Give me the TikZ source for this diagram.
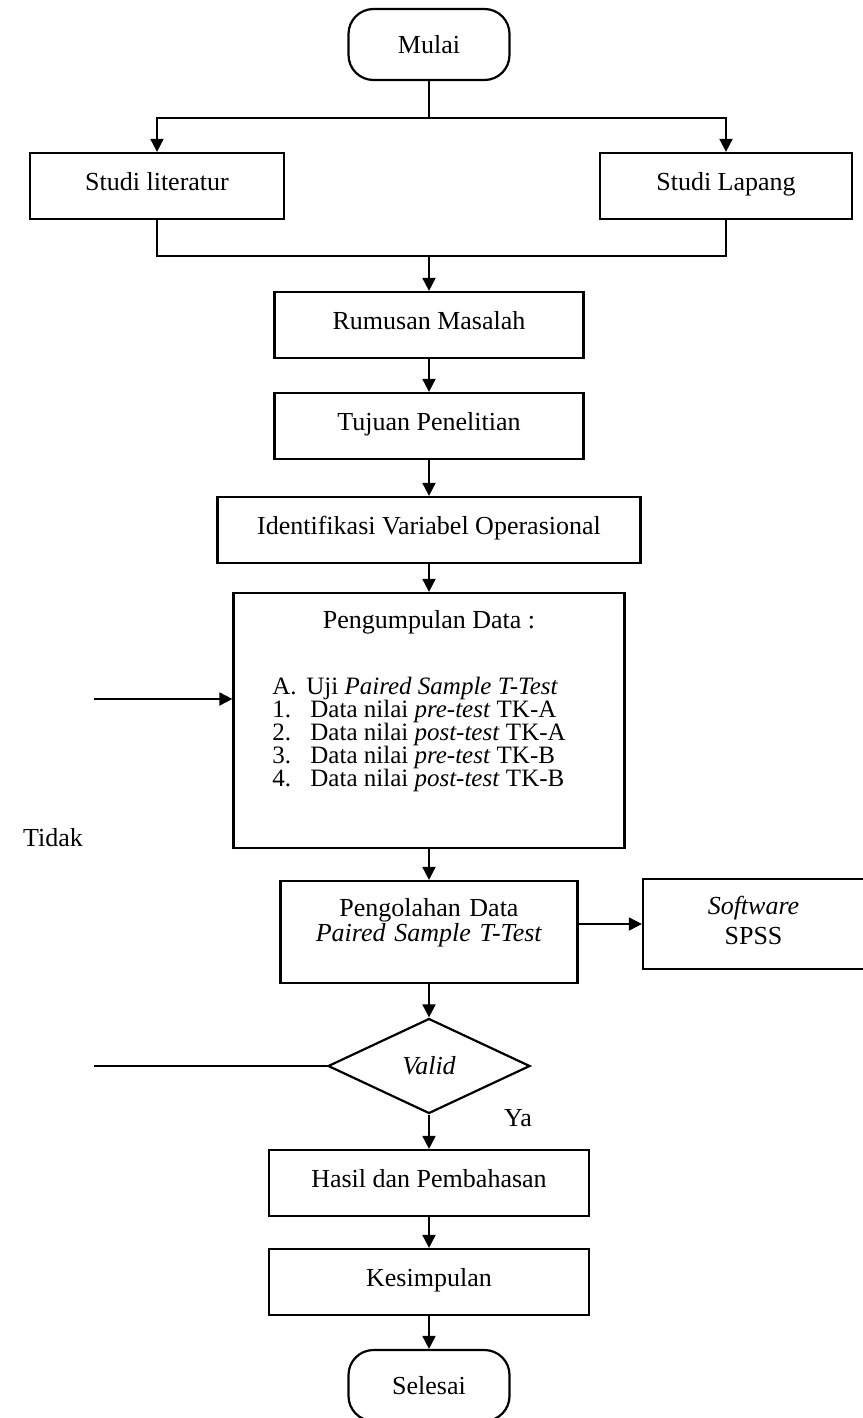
\documentclass[tikz,border=0pt]{standalone}
\usepackage{fontspec}
\setmainfont{Liberation Serif}
\usetikzlibrary{arrows.meta,shapes.geometric}
\begin{document}
\begin{tikzpicture}[x=0.5pt,y=-0.5pt,
  font=\fontsize{13pt}{15pt}\selectfont,
  proses/.style={draw,line width=1.1pt,inner sep=0pt,minimum height=33pt,text height=18.5pt,text depth=14.5pt},
  ujung/.style={draw,line width=1.1pt,rounded corners=12.5pt,inner sep=0pt,minimum width=80.5pt,minimum height=35.5pt},
  putusan/.style={draw,diamond,line width=1.1pt,inner sep=0pt,minimum width=101pt,minimum height=47.5pt},
  garis/.style={line width=0.9pt},
  panah/.style={garis,-{Triangle[length=6.5pt,width=6.5pt]}}]
\useasboundingbox (0,0) rectangle (862,1418);
\node[ujung] (mulai) at (429,44.5) {Mulai};
\node[proses,minimum width=127pt] (literatur) at (157,186) {Studi literatur};
\node[proses,minimum width=126pt] (lapang) at (726,186) {Studi Lapang};
\node[proses,minimum width=154.5pt] (rumusan) at (429,325) {Rumusan Masalah};
\node[proses,minimum width=154.5pt] (tujuan) at (429,426) {Tujuan Penelitian};
\node[proses,minimum width=211.5pt] (identifikasi) at (429,530) {Identifikasi Variabel Operasional};
\node[proses,minimum width=195.5pt,minimum height=127.5pt,text height=17.8pt,text depth=109.7pt] (kumpul) at (429,720.5) {Pengumpulan Data :};
\foreach \lbl/\lebar/\isi [count=\i] in {A./17pt/Uji \textit{Paired Sample T-Test},1./19pt/Data nilai \textit{pre-test} TK-A,2./19pt/Data nilai \textit{post-test} TK-A,3./19pt/Data nilai \textit{pre-test} TK-B,4./19pt/Data nilai \textit{post-test} TK-B}
  \node[inner sep=0pt,anchor=base west,font=\fontsize{12.5pt}{14pt}\selectfont] (data\i) at (272,671.3+23*\i) {\makebox[\lebar][l]{\lbl}\isi};
\node[proses,minimum width=148.5pt,minimum height=51pt,text width=148.5pt,align=center,text height=17.8pt,text depth=33.2pt,font=\fontsize{13pt}{12.5pt}\selectfont] (olah) at (429,932) {Pengolahan Data\\\textit{Paired Sample T-Test}};
\node[proses,minimum width=110.5pt,minimum height=45pt,text width=110.5pt,align=center,text height=17.8pt,text depth=27.2pt] (spss) at (753.5,924) {\textit{Software}\\SPSS};
\node[putusan] (valid) at (429,1066) {\textit{Valid}};
\node[proses,minimum width=160pt] (hasil) at (429,1183) {Hasil dan Pembahasan};
\node[proses,minimum width=160pt] (simpulan) at (429,1282) {Kesimpulan};
\node[ujung] (selesai) at (429,1385.5) {Selesai};
\node[inner sep=0pt] (ya) at (518,1118) {Ya};
\node[inner sep=0pt] (tidak) at (53,838) {Tidak};
\coordinate (cabang) at (429,118);
\coordinate (gabung) at (429,256);
\coordinate (masuk) at (94,699);
\coordinate (keluar) at (94,1066);
\draw[garis] (mulai) -- (cabang);
\draw[panah] (cabang) -| (literatur);
\draw[panah] (cabang) -| (lapang);
\draw[garis] (literatur) |- (gabung) -| (lapang);
\draw[panah] (gabung) -- (rumusan);
\draw[panah] (rumusan) -- (tujuan);
\draw[panah] (tujuan) -- (identifikasi);
\draw[panah] (identifikasi) -- (kumpul);
\draw[panah] (masuk) -- (masuk -| kumpul.west);
\draw[panah] (kumpul) -- (olah);
\draw[panah] (olah.east |- spss) -- (spss);
\draw[panah] (olah) -- (valid);
\draw[garis] (valid) -- (keluar);
\draw[panah] (valid) -- (hasil);
\draw[panah] (hasil) -- (simpulan);
\draw[panah] (simpulan) -- (selesai);
\end{tikzpicture}
\end{document}
